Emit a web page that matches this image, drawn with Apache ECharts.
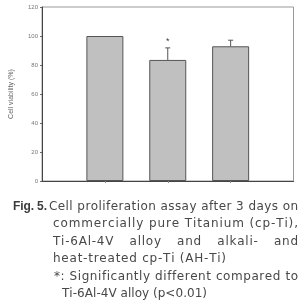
<!DOCTYPE html>
<html>
<head>
	<meta charset="utf-8">
	<title>Cell viability</title>
	<style type="text/css">
		body{ margin: 0px; background: #fff; }
		.chart{ width: 300px; height: 304px; }
	</style>
	<script type="text/javascript" src="https://cdn.jsdelivr.net/npm/echarts@6/dist/echarts.min.js"></script>
</head>
<body>
	<div id="chart" class="chart"></div>
	<script type="text/javascript">
		// data
		var groups = ['cp-Ti', 'Ti-6Al-4V', 'AH-Ti'];
		var positions = [1, 2, 3];
		var viability = [100, 83.5, 92.9];
		var errors = [0, 8.3, 4.2];
		var marks = ['', '*', ''];
		var yTicks = [0, 20, 40, 60, 80, 100, 120];

		var captionLines = [
			'Cell proliferation assay after 3 days on',
			'commercially pure Titanium (cp-Ti),',
			'Ti-6Al-4V alloy and alkali- and',
			'heat-treated cp-Ti (AH-Ti)',
			'*: Significantly different compared to',
			'Ti-6Al-4V alloy (p<0.01)'
		];

		var FONT = '12px "DejaVu Sans", sans-serif';
		var BOLD = 'bold 12px "Liberation Sans", sans-serif';
		var ctx = document.createElement('canvas').getContext('2d');
		function measure(t, f){ ctx.font = f || FONT; return ctx.measureText(t).width; }
		function natural(t, f){
			var s = 0;
			for(var i = 0; i < t.length; i++) s += measure(t[i], f);
			return s;
		}

		// caption layout: [x start, y middle, x end, mode]
		// mode 'fit' = tracking so the line spans start..end
		// mode 'spread' = tracking like the plain lines, extra room goes to the spaces
		var lineLayout = [
			[49, 206.5, 298, 'fit'],
			[53, 224, 298, 'fit'],
			[53, 241.5, 298, 'spread'],
			[53, 259, 226, 'fit'],
			[54, 277, 298, 'fit'],
			[62, 294, 207, 'fit']
		];
		var baseTrack = (173 - natural(captionLines[3])) / (captionLines[3].length - 1);

		function chars(text, x, y, t, gapExtra, font, color){
			var els = [];
			for(var i = 0; i < text.length; i++){
				var c = text[i];
				if(c !== ' '){
					els.push({ type: 'text', x: x, y: y, silent: true,
						style: { text: c, font: font || FONT, fill: color || '#484848', verticalAlign: 'middle' } });
				}
				x += measure(c, font) + t + (c === ' ' ? gapExtra : 0);
			}
			return els;
		}

		function captionGraphics(){
			var ft = (34 - natural('Fig. 5.', BOLD)) / 6;
			var els = chars('Fig. 5.', 13, 206.5, ft, 0, BOLD, '#3c3c3c');
			captionLines.forEach(function(line, i){
				var lay = lineLayout[i];
				var w = lay[2] - lay[0];
				var nat = natural(line);
				if(lay[3] === 'fit'){
					var t = (w - nat) / (line.length - 1);
					els = els.concat(chars(line, lay[0], lay[1], t, 0));
				}else{
					var spaces = line.split(' ').length - 1;
					var rest = w - nat - baseTrack * (line.length - 1);
					els = els.concat(chars(line, lay[0], lay[1], baseTrack, rest / spaces));
				}
			});
			return els;
		}

		window.onload = function(){
			var chart = echarts.init(document.getElementById('chart'));
			var barData = positions.map(function(p, i){ return [p, viability[i]]; });
			var errData = positions.map(function(p, i){ return [p, viability[i], errors[i], marks[i]]; });
			chart.setOption({
				animation: false,
				backgroundColor: '#fff',
				grid: {
					left: 41, right: 6.5, top: 7, bottom: 123,
					show: true, borderColor: '#999', borderWidth: 1
				},
				xAxis: {
					type: 'value', min: 0, max: 4, interval: 1,
					axisLine: { lineStyle: { color: '#444', width: 1 } },
					axisTick: { customValues: positions, length: 2, lineStyle: { color: '#888' } },
					axisLabel: { show: false },
					splitLine: { show: false }
				},
				yAxis: {
					type: 'value', min: yTicks[0], max: yTicks[yTicks.length - 1], interval: 20,
					name: 'Cell viability (%)',
					nameLocation: 'middle', nameGap: 27,
					nameTextStyle: { fontSize: 7, color: '#666', fontFamily: 'Liberation Sans' },
					axisLine: { show: true, lineStyle: { color: '#444', width: 1 } },
					axisTick: { show: true, length: 2, lineStyle: { color: '#666' } },
					axisLabel: { fontSize: 6, color: '#777', margin: 4, fontFamily: 'Liberation Sans' },
					splitLine: { show: false }
				},
				series: [{
					type: 'bar',
					data: barData,
					barWidth: 37,
					itemStyle: { color: '#c0c0c0', borderColor: '#555', borderWidth: 1 }
				}, {
					type: 'custom',
					data: errData,
					z: 5,
					renderItem: function(params, api){
						var x = api.value(0), v = api.value(1), e = api.value(2);
						var top = api.coord([x, v + e]);
						var base = api.coord([x, v]);
						var kids = [];
						if(e > 0){
							kids.push({ type: 'line', shape: { x1: base[0], y1: base[1], x2: top[0], y2: top[1] },
								style: { stroke: '#555', lineWidth: 1 } });
							kids.push({ type: 'line', shape: { x1: top[0] - 2.5, y1: top[1], x2: top[0] + 2.5, y2: top[1] },
								style: { stroke: '#555', lineWidth: 1 } });
						}
						var m = marks[params.dataIndex];
						if(m){
							kids.push({ type: 'text', x: top[0], y: top[1] - 1.5,
								style: { text: m, fontSize: 9, fill: '#444', align: 'center', verticalAlign: 'bottom' } });
						}
						return { type: 'group', children: kids };
					}
				}],
				graphic: captionGraphics()
			});
		}
	</script>
</body>
</html>
